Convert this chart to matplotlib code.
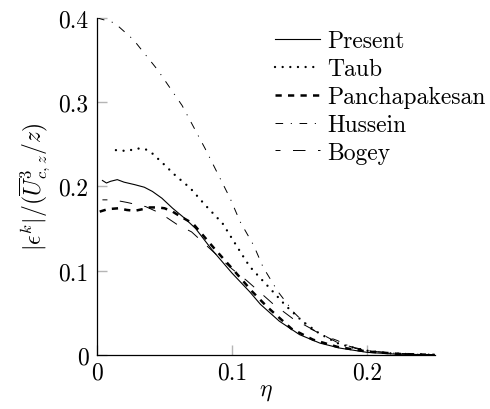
import matplotlib
matplotlib.use("Agg")
import matplotlib.pyplot as plt

plt.rcParams["font.family"] = "serif"
plt.rcParams["font.serif"] = ["cmr10"]
plt.rcParams["mathtext.fontset"] = "cm"
plt.rcParams["axes.formatter.use_mathtext"] = True
plt.rcParams["lines.scale_dashes"] = False

# data
present_eta = [0.004, 0.007, 0.010, 0.015, 0.020, 0.028, 0.035, 0.041, 0.048, 0.056, 0.065,
               0.073, 0.085, 0.100, 0.113, 0.121, 0.135, 0.150, 0.165, 0.180, 0.200, 0.220, 0.250]
present_val = [0.207, 0.204, 0.206, 0.208, 0.205, 0.202, 0.199, 0.194, 0.186, 0.174, 0.162,
               0.150, 0.125, 0.097, 0.075, 0.060, 0.040, 0.024, 0.014, 0.008, 0.003, 0.001, 0.000]

taub_eta = [0.014, 0.022, 0.030, 0.036, 0.041, 0.049, 0.058, 0.069, 0.080, 0.093, 0.100, 0.107,
            0.113, 0.121, 0.128, 0.140, 0.152, 0.165, 0.178, 0.186, 0.200, 0.215, 0.230, 0.250]
taub_val = [0.243, 0.242, 0.245, 0.244, 0.239, 0.227, 0.213, 0.198, 0.178, 0.156, 0.138, 0.120,
            0.105, 0.091, 0.079, 0.058, 0.040, 0.025, 0.014, 0.010, 0.005, 0.002, 0.001, 0.000]

pancha_eta = [0.002, 0.008, 0.016, 0.022, 0.028, 0.034, 0.039, 0.045, 0.050, 0.056, 0.061,
              0.071, 0.087, 0.102, 0.115, 0.126, 0.144, 0.160, 0.178, 0.200, 0.225, 0.250]
pancha_val = [0.170, 0.173, 0.174, 0.172, 0.171, 0.173, 0.175, 0.175, 0.174, 0.170, 0.165,
              0.156, 0.126, 0.099, 0.075, 0.057, 0.031, 0.018, 0.0095, 0.004, 0.001, 0.000]

hussein_eta = [0.000, 0.013, 0.027, 0.045, 0.063, 0.080, 0.0985, 0.106, 0.116, 0.123, 0.134,
               0.146, 0.158, 0.168, 0.178, 0.190, 0.205, 0.220, 0.250]
hussein_val = [0.400, 0.394, 0.374, 0.338, 0.296, 0.245, 0.186, 0.158, 0.130, 0.104, 0.075,
               0.050, 0.031, 0.023, 0.017, 0.008, 0.004, 0.002, 0.000]

bogey_eta = [0.004, 0.012, 0.022, 0.036, 0.047, 0.060, 0.070, 0.085, 0.100, 0.111, 0.130,
             0.145, 0.161, 0.180, 0.200, 0.225, 0.250]
bogey_val = [0.184, 0.184, 0.181, 0.176, 0.168, 0.154, 0.146, 0.124, 0.102, 0.088, 0.061,
             0.043, 0.029, 0.013, 0.005, 0.001, 0.000]

xticks = [0, 0.1, 0.2]
xtick_labels = ["0", "0.1", "0.2"]
yticks = [0, 0.1, 0.2, 0.3, 0.4]
ytick_labels = ["0", "0.1", "0.2", "0.3", "0.4"]

fig = plt.figure(figsize=(4.9, 4.1), dpi=100)
ax = fig.add_axes([0.198, 0.132, 0.689, 0.822])

ax.plot(present_eta, present_val, color="black", lw=0.8, label="Present")
ax.plot(taub_eta, taub_val, color="black", lw=1.7, linestyle=(0, (0.01, 5.5)),
        dash_capstyle="round", label="Taub")
ax.plot(pancha_eta, pancha_val, color="black", lw=1.8, linestyle=(0, (4.5, 4.5)),
        label="Panchapakesan")
ax.plot(hussein_eta, hussein_val, color="black", lw=0.7, linestyle=(0, (5.5, 5.5, 0.8, 5.5)),
        label="Hussein")
ax.plot(bogey_eta, bogey_val, color="black", lw=0.7, linestyle=(5.4, (9, 9)),
        label="Bogey")

ax.set_xlim(0, 0.25)
ax.set_ylim(0, 0.4)
ax.set_xticks(xticks)
ax.set_xticklabels(xtick_labels)
ax.set_yticks(yticks)
ax.set_yticklabels(ytick_labels)
ax.tick_params(direction="in", length=7, width=1, color="#b5b5b5", labelsize=17)
ax.tick_params(axis="x", pad=5)
ax.tick_params(axis="y", pad=6)
for s in ["top", "right"]:
    ax.spines[s].set_visible(False)
for s in ["left", "bottom"]:
    ax.spines[s].set_linewidth(0.9)

ax.set_xlabel(r"$\eta$", fontsize=17, labelpad=-3)
ax.set_ylabel(r"$|\epsilon^k|/(\overline{U}^{3}_{c,z}/z)$", fontsize=17, labelpad=4)

ax.legend(loc="upper left", bbox_to_anchor=(0.527, 0.963), frameon=False, fontsize=17,
          handlelength=1.9, handletextpad=0.3, labelspacing=0.24, borderpad=0, borderaxespad=0)

fig.savefig("out.png", dpi=100)
